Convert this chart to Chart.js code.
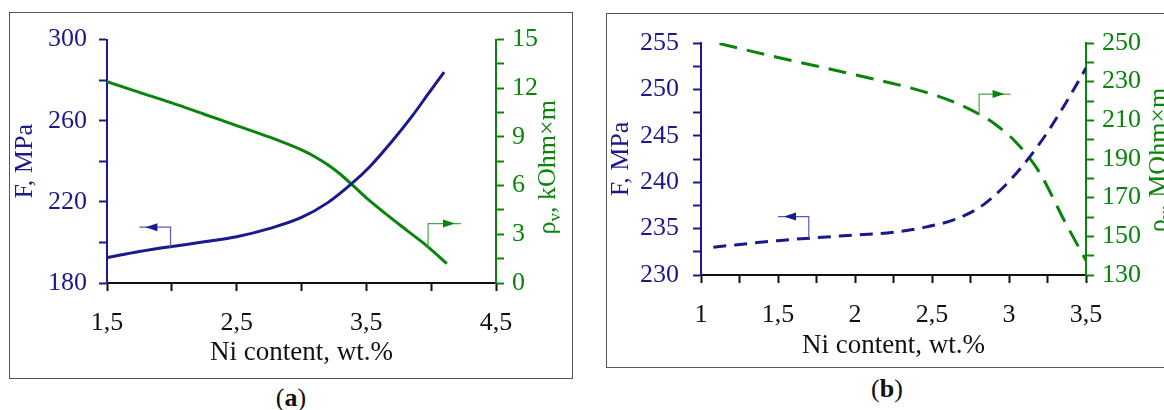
<!DOCTYPE html>
<html>
<head>
<meta charset="utf-8">
<script src="https://cdn.jsdelivr.net/npm/chart.js@4.4.1/dist/chart.umd.min.js"></script>
<style>
  html, body { margin: 0; padding: 0; background: #fff; }
  body { width: 1164px; height: 410px; position: relative; overflow: hidden; font-family: "Liberation Serif", "Times New Roman", serif; }
  .frame { position: absolute; border: 1px solid #555; box-sizing: border-box; }
  canvas { position: absolute; }
  .cap { position: absolute; font-size: 26px; color: #111; transform: translate(-50%, -50%); white-space: nowrap; }
</style>
</head>
<body>
<div class="frame" style="left:9px;top:12px;width:564px;height:367px"></div>
<div class="frame" style="left:606px;top:13px;width:620px;height:355px"></div>
<canvas id="chartA" width="564" height="367" style="left:9px;top:12px"></canvas>
<canvas id="chartB" width="558" height="355" style="left:606px;top:13px"></canvas>
<div class="cap" style="left:291px;top:398px">(<b>a</b>)</div>
<div class="cap" style="left:887px;top:389px">(<b>b</b>)</div>

<script>
// --- panel (a): solid curves ---
const niForceA = [1.5, 1.75, 2.0, 2.25, 2.5, 2.75, 3.0, 3.2, 3.38, 3.53, 3.7, 3.85, 3.98, 4.1];
const forceA   = [192.5, 195.5, 198, 200.3, 202.8, 206.8, 212.3, 219.5, 228.6, 237.6, 250, 262, 273.5, 284];
const niRhoA   = [1.5, 1.75, 2.0, 2.25, 2.5, 2.75, 3.0, 3.1, 3.2, 3.3, 3.4, 3.5, 3.66, 3.82, 3.98, 4.12];
const rhoA     = [12.4, 11.75, 11.1, 10.4, 9.7, 9.0, 8.2, 7.8, 7.3, 6.7, 5.98, 5.25, 4.2, 3.2, 2.2, 1.2];

// --- panel (b): dashed curves ---
const niForceB = [1.08, 1.5, 1.9, 2.25, 2.44, 2.65, 2.81, 2.96, 3.08, 3.23, 3.36, 3.5];
const forceB   = [233.0, 233.7, 234.2, 234.6, 235.1, 236.0, 237.3, 239.4, 241.6, 244.9, 248.3, 252.3];
const niRhoB   = [1.12, 1.5, 2.0, 2.44, 2.64, 2.81, 2.91, 3.05, 3.2, 3.36, 3.5];
const rhoB     = [249.7, 242.5, 233.6, 225.0, 219.5, 213.0, 208.0, 198.3, 182.8, 158, 137.5];

// axis ranges: [min, max, tick step, label step]
const xRangeA  = [1.5, 4.5, 0.5, 1.0];
const yRangeA  = [180, 300, 20, 40];
const y2RangeA = [0, 15, 1.5, 3];
const xRangeB  = [1, 3.5, 0.25, 0.5];
const yRangeB  = [230, 255, 2.5, 5];
const y2RangeB = [130, 250, 10, 20];

// pointer arrows (which curve belongs to which axis), in data units
const arrowsA = [
  { axis: 'y',  stemX: 1.99,  fromY: 197.6, toY: 207.5, tipX: 1.75 },
  { axis: 'y2', stemX: 3.976, fromY: 2.2,   toY: 3.66,  tipX: 4.23 }
];
const arrowsB = [
  { axis: 'y',  stemX: 1.70,  fromY: 234.0, toY: 236.3, tipX: 1.5 },
  { axis: 'y2', stemX: 2.806, fromY: 212.9, toY: 223.6, tipX: 3.01 }
];

const NAVY = '#1a1a8c';
const GREEN = '#0a840a';
const INK = '#111';
const SERIF = '"Liberation Serif", "Times New Roman", serif';
const FONT = { family: SERIF, size: 26 };
const TITLE_FONT = { family: SERIF, size: 27 };

function pairs(xs, ys) {
  return xs.map((x, i) => ({ x: x, y: ys[i] }));
}

// only every n-th tick gets a label, decimal comma
function labelEvery(start, step) {
  return function(v) {
    const k = (v - start) / step;
    if (Math.abs(k - Math.round(k)) > 1e-6) return '';
    return String(+v.toFixed(2)).replace('.', ',');
  };
}

// arrows pointing to the matching axis
function arrowPlugin(list) {
  return {
    id: 'arrows',
    afterDatasetsDraw(chart) {
      const c = chart.ctx;
      const xs = chart.scales.x;
      list.forEach(a => {
        const ys = chart.scales[a.axis];
        const dark = a.axis === 'y' ? NAVY : GREEN;
        const light = a.axis === 'y' ? '#5a5ab4' : '#4aa84a';
        const sx = xs.getPixelForValue(a.stemX);
        const y0 = ys.getPixelForValue(a.fromY);
        const y1 = ys.getPixelForValue(a.toY);
        const tx = xs.getPixelForValue(a.tipX);
        const dir = tx > sx ? 1 : -1;
        c.save();
        c.strokeStyle = light;
        c.lineWidth = 1.2;
        c.beginPath();
        c.moveTo(sx, y0);
        c.lineTo(sx, y1);
        c.lineTo(tx, y1);
        c.stroke();
        // arrow head sits a little before the end of the line
        const tip = tx - dir * 6;
        c.fillStyle = dark;
        c.beginPath();
        c.moveTo(tip, y1);
        c.lineTo(tip - dir * 12, y1 - 4);
        c.lineTo(tip - dir * 12, y1 + 4);
        c.closePath();
        c.fill();
        c.restore();
      });
    }
  };
}

// right axis title reads bottom-to-top, with subscript v
function rightTitlePlugin(rest, dx, dy) {
  return {
    id: 'rightTitle',
    afterDraw(chart) {
      const c = chart.ctx;
      const area = chart.chartArea;
      const big = '26px ' + SERIF;
      const small = '17px ' + SERIF;
      c.save();
      c.font = big;
      const w1 = c.measureText('\u03C1').width;
      const w3 = c.measureText(rest).width;
      c.font = small;
      const w2 = c.measureText('v').width;
      const total = w1 + w2 + w3;
      c.translate(area.right + dx, (area.top + area.bottom) / 2 + dy);
      c.rotate(-Math.PI / 2);
      c.fillStyle = GREEN;
      c.textBaseline = 'alphabetic';
      c.textAlign = 'left';
      let x = -total / 2;
      c.font = big;
      c.fillText('\u03C1', x, 0);
      x += w1;
      c.font = small;
      c.fillText('v', x, 5);
      x += w2;
      c.font = big;
      c.fillText(rest, x, 0);
      c.restore();
    }
  };
}

function buildChart(id, cfg) {
  const ctx = document.getElementById(id);
  const tickGrid = color => ({ drawOnChartArea: false, drawTicks: true, tickLength: 8, tickWidth: 2, tickColor: color, color: color });

  return new Chart(ctx, {
    type: 'line',
    data: {
      datasets: [
        {
          data: pairs(cfg.fx, cfg.fy),
          yAxisID: 'y',
          borderColor: NAVY,
          borderWidth: 3,
          borderDash: cfg.fDash,
          pointRadius: 0,
          cubicInterpolationMode: 'monotone',
          fill: false
        },
        {
          data: pairs(cfg.rx, cfg.ry),
          yAxisID: 'y2',
          borderColor: GREEN,
          borderWidth: 3,
          borderDash: cfg.rDash,
          pointRadius: 0,
          cubicInterpolationMode: 'monotone',
          fill: false
        }
      ]
    },
    options: {
      responsive: false,
      animation: false,
      events: [],
      layout: { padding: { top: cfg.padTop, left: 0, right: 0, bottom: 0 } },
      plugins: {
        legend: { display: false },
        tooltip: { enabled: false }
      },
      scales: {
        x: {
          type: 'linear',
          min: cfg.xr[0], max: cfg.xr[1],
          afterFit: s => { s.height = cfg.xHeight; },
          border: { display: true, color: INK, width: 2 },
          grid: tickGrid(INK),
          ticks: {
            stepSize: cfg.xr[2], autoSkip: false, maxRotation: 0, padding: 17,
            color: INK, font: FONT, callback: labelEvery(cfg.xr[0], cfg.xr[3])
          },
          title: { display: true, text: 'Ni content, wt.%', color: INK, font: TITLE_FONT, padding: { top: 0, bottom: cfg.xTitlePad } }
        },
        y: {
          position: 'left',
          min: cfg.yr[0], max: cfg.yr[1],
          afterFit: s => { s.width = cfg.yWidth; },
          border: { display: true, color: NAVY, width: 2 },
          grid: tickGrid(NAVY),
          ticks: {
            stepSize: cfg.yr[2], autoSkip: false, padding: cfg.yPad,
            color: NAVY, font: FONT, callback: labelEvery(cfg.yr[0], cfg.yr[3])
          },
          title: { display: true, text: 'F, MPa', color: NAVY, font: FONT, padding: { top: cfg.yTitlePad, bottom: 0 } }
        },
        y2: {
          position: 'right',
          min: cfg.y2r[0], max: cfg.y2r[1],
          afterFit: s => { s.width = cfg.y2Width; },
          border: { display: true, color: GREEN, width: 2 },
          grid: tickGrid(GREEN),
          ticks: {
            stepSize: cfg.y2r[2], autoSkip: false, padding: 8,
            color: GREEN, font: FONT, callback: labelEvery(cfg.y2r[0], cfg.y2r[3])
          }
        }
      }
    },
    plugins: [arrowPlugin(cfg.arrows), rightTitlePlugin(cfg.rightTitle, cfg.rtDx, cfg.rtDy)]
  });
}

buildChart('chartA', {
  fx: niForceA, fy: forceA, rx: niRhoA, ry: rhoA,
  fDash: [], rDash: [],
  xr: xRangeA, yr: yRangeA, y2r: y2RangeA,
  padTop: 24, xHeight: 96, yWidth: 98, y2Width: 77,
  xTitlePad: 10, yTitlePad: 1, yPad: 12,
  arrows: arrowsA,
  rightTitle: ', kOhm\u00D7m', rtDx: 59, rtDy: 6
});

buildChart('chartB', {
  fx: niForceB, fy: forceB, rx: niRhoB, ry: rhoB,
  fDash: [13, 8], rDash: [18, 10],
  xr: xRangeB, yr: yRangeB, y2r: y2RangeB,
  padTop: 30, xHeight: 93, yWidth: 95, y2Width: 78,
  xTitlePad: 6, yTitlePad: 0, yPad: 14,
  arrows: arrowsB,
  rightTitle: ', MOhm\u00D7m', rtDx: 80, rtDy: 1
});
</script>
</body>
</html>
